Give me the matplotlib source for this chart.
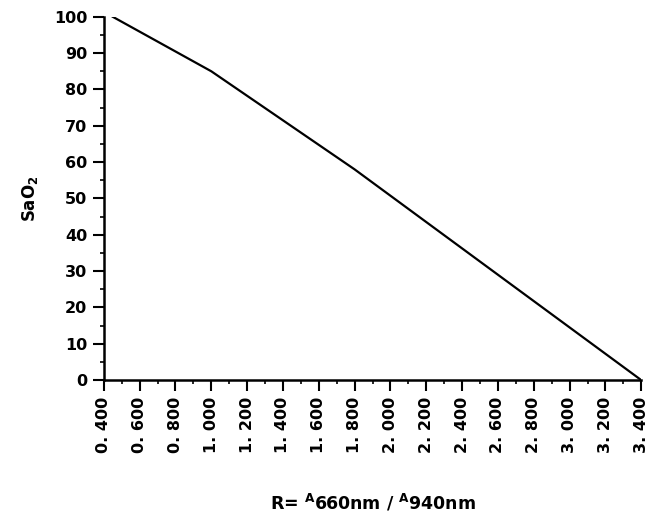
import matplotlib.pyplot as plt
from matplotlib.ticker import MultipleLocator, FixedLocator

# kalibreringskurve R -> SaO2
r_verdier = [0.45, 1.0, 1.8, 3.4]
sao2 = [100, 85, 58, 0]

x_ticks = [0.4, 0.6, 0.8, 1.0, 1.2, 1.4, 1.6, 1.8, 2.0, 2.2, 2.4, 2.6, 2.8, 3.0, 3.2, 3.4]
x_labels = ["0. 400", "0. 600", "0. 800", "1. 000", "1. 200", "1. 400", "1. 600", "1. 800",
            "2. 000", "2. 200", "2. 400", "2. 600", "2. 800", "3. 000", "3. 200", "3. 400"]
y_ticks = [0, 10, 20, 30, 40, 50, 60, 70, 80, 90, 100]

plt.rcParams['font.family'] = ['DejaVu Sans']
plt.rcParams['font.weight'] = 'bold'

fig = plt.figure(figsize=(6.53, 5.25), dpi=100)
ax = fig.add_axes([0.159, 0.276, 0.823, 0.692])

ax.plot(r_verdier, sao2, color="black", lw=1.6)

ax.set_xlim(0.4, 3.4)
ax.set_ylim(0, 100)
ax.xaxis.set_major_locator(FixedLocator(x_ticks))
ax.set_xticklabels(x_labels, rotation=90, fontsize=11.5, fontweight="bold")
ax.xaxis.set_minor_locator(MultipleLocator(0.1))
ax.set_yticks(y_ticks)
ax.set_yticklabels([str(v) for v in y_ticks], fontsize=11.5, fontweight="bold")
ax.yaxis.set_minor_locator(MultipleLocator(5))

ax.spines['top'].set_visible(False)
ax.spines['right'].set_visible(False)
ax.spines['left'].set_linewidth(1.8)
ax.spines['bottom'].set_linewidth(1.8)
ax.tick_params(which="major", direction="out", length=8, width=1.5, pad=4)
ax.tick_params(which="minor", direction="out", length=3, width=1.2)

ax.set_ylabel(r"SaO$_\mathbf{2}$", fontsize=12, fontweight="bold", labelpad=10)
ax.set_xlabel(r"R= $^\mathbf{A}$660nm / $^\mathbf{A}$940nm", fontsize=12.5, fontweight="bold", labelpad=28)

fig.savefig("out.png", dpi=100)
